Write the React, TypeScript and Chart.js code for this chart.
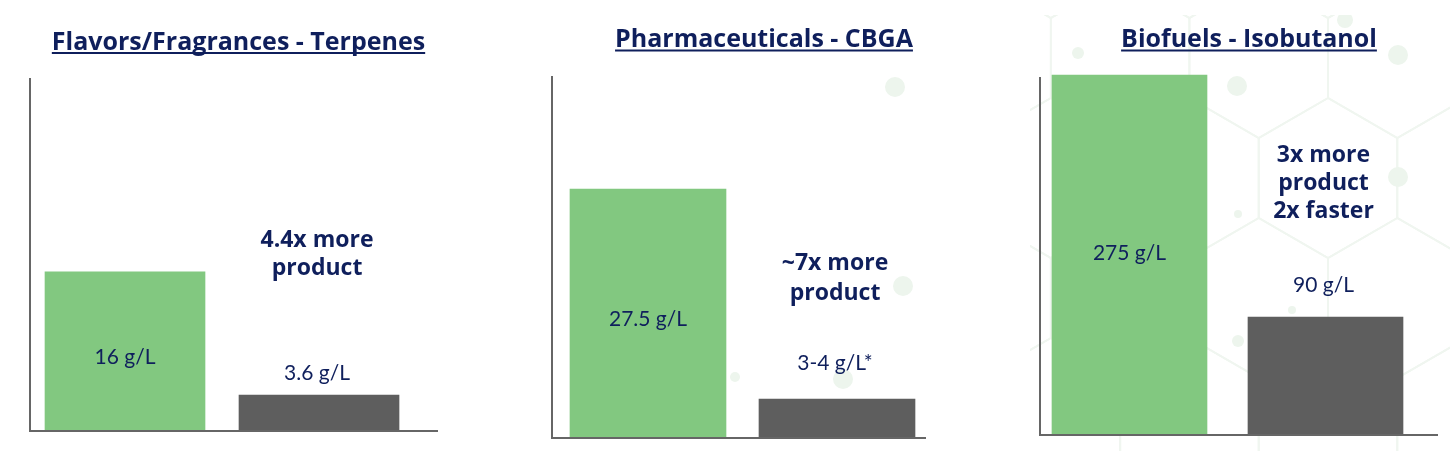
import React, { useEffect, useRef } from 'react';
import { Chart, registerables } from 'chart.js';

Chart.register(...registerables);

const W = 1456;
const H = 451;

// ---- data ----
const categories = ['Engineered', 'Conventional'];
const panelTitles = ['Flavors/Fragrances - Terpenes', 'Pharmaceuticals - CBGA', 'Biofuels - Isobutanol'];
const terpeneValues = [16, 3.6];
const cbgaValues = [27.5, 4.3];
const isobutanolValues = [275, 90];
const terpeneLabels = ['16 g/L', '3.6 g/L'];
const cbgaLabels = ['27.5 g/L', '3-4 g/L*'];
const isobutanolLabels = ['275 g/L', '90 g/L'];
const terpeneNote = ['4.4x more', 'product'];
const cbgaNote = ['~7x more', 'product'];
const isobutanolNote = ['3x more', 'product', '2x faster'];

// ---- styles / layout ----
const GREEN = '#82c880';
const GRAY = '#5e5e5e';
const NAVY = '#0f1f5c';
const AXIS = '#666666';
const DECO_LINE = '#f0f6f0';
const DECO_DOT = '#edf5ed';
const TITLE_FONT = '"Open Sans", sans-serif';
const NOTE_FONT = '"Open Sans", sans-serif';
const LABEL_FONT = 'Lato, sans-serif';

type Panel = {
  title: string;
  values: number[];
  labels: string[];
  note: string[];
  area: { left: number; right: number; top: number; bottom: number };
  xMin: number;
  xMax: number;
  yMax: number;
  barThickness: number;
  titleX: number;
  titleBaseline: number;
  underlineY: number;
  noteTop: number;
  noteLineH: number;
  innerDy: number;
  outerGap: number;
  deco: 'none' | 'dots' | 'hex';
};

const panels: Panel[] = [
  {
    title: panelTitles[0], values: terpeneValues, labels: terpeneLabels, note: terpeneNote,
    area: { left: 30, right: 437, top: 79, bottom: 431 },
    xMin: 0.5103, xMax: 2.6082, yMax: 35.4, barThickness: 160,
    titleX: 238.5, titleBaseline: 50, underlineY: 52, noteTop: 240, noteLineH: 28, innerDy: 6, outerGap: 22,
    deco: 'none',
  },
  {
    title: panelTitles[1], values: cbgaValues, labels: cbgaLabels, note: cbgaNote,
    area: { left: 552, right: 925, top: 77, bottom: 438 },
    xMin: 0.4921, xMax: 2.4656, yMax: 39.9, barThickness: 156,
    titleX: 764, titleBaseline: 47, underlineY: 49.5, noteTop: 263, noteLineH: 30, innerDy: 6, outerGap: 36,
    deco: 'dots',
  },
  {
    title: panelTitles[2], values: isobutanolValues, labels: isobutanolLabels, note: isobutanolNote,
    area: { left: 1040, right: 1437, top: 78, bottom: 435 },
    xMin: 0.5434, xMax: 2.5689, yMax: 272.7, barThickness: 155,
    titleX: 1249, titleBaseline: 47, underlineY: 49.5, noteTop: 155, noteLineH: 28, innerDy: -2, outerGap: 32,
    deco: 'hex',
  },
];

// faint decorative background (not data)
function drawDeco(ctx: CanvasRenderingContext2D, kind: Panel['deco']) {
  if (kind === 'none') return;
  ctx.save();
  if (kind === 'hex') {
    ctx.beginPath();
    ctx.rect(1030, 15, 420, 436);
    ctx.clip();
    ctx.strokeStyle = DECO_LINE;
    ctx.lineWidth = 2;
    const r = 80;
    const dx = Math.sqrt(3) * r;
    const cx0 = 1328;
    const cy0 = 178;
    for (let row = -2; row <= 3; row++) {
      for (let col = -3; col <= 2; col++) {
        const cx = cx0 + col * dx + (Math.abs(row) % 2 === 1 ? dx / 2 : 0);
        const cy = cy0 + row * 1.5 * r;
        ctx.beginPath();
        for (let k = 0; k < 6; k++) {
          const a = Math.PI / 2 + (k * Math.PI) / 3;
          const px = cx + r * Math.cos(a);
          const py = cy - r * Math.sin(a);
          if (k === 0) ctx.moveTo(px, py);
          else ctx.lineTo(px, py);
        }
        ctx.closePath();
        ctx.stroke();
      }
    }
    ctx.fillStyle = DECO_DOT;
    const dots: [number, number, number][] = [
      [1237, 86, 10], [1398, 55, 10], [1398, 177, 10], [1238, 214, 4],
      [1292, 310, 4], [1238, 341, 6], [1078, 53, 6], [1345, 20, 8],
    ];
    dots.forEach(([x, y, rr]) => {
      ctx.beginPath();
      ctx.arc(x, y, rr, 0, Math.PI * 2);
      ctx.fill();
    });
  } else {
    ctx.fillStyle = DECO_DOT;
    const dots: [number, number, number][] = [
      [895, 87, 10], [903, 286, 10], [843, 379, 10], [735, 377, 5],
    ];
    dots.forEach(([x, y, rr]) => {
      ctx.beginPath();
      ctx.arc(x, y, rr, 0, Math.PI * 2);
      ctx.fill();
    });
  }
  ctx.restore();
}

function makeTextPlugin(p: Panel) {
  return {
    id: 'panelText',
    beforeDatasetsDraw(chart: any) {
      drawDeco(chart.ctx as CanvasRenderingContext2D, p.deco);
    },
    afterDraw(chart: any) {
      const ctx = chart.ctx as CanvasRenderingContext2D;
      ctx.save();
      // title + underline
      ctx.fillStyle = NAVY;
      ctx.font = `bold 25px ${TITLE_FONT}`;
      ctx.textAlign = 'center';
      ctx.textBaseline = 'alphabetic';
      ctx.fillText(p.title, p.titleX, p.titleBaseline);
      const tw = ctx.measureText(p.title).width;
      ctx.fillRect(p.titleX - tw / 2, p.underlineY, tw, 2);

      const meta = chart.getDatasetMeta(0);
      const green = meta.data[0] as any;
      const gray = meta.data[1] as any;

      // value labels
      ctx.textBaseline = 'middle';
      ctx.font = `21px ${LABEL_FONT}`;
      ctx.fillText(p.labels[0], green.x, (green.y + green.base) / 2 + p.innerDy);
      ctx.fillText(p.labels[1], gray.x - 2, gray.y - p.outerGap);

      // annotation
      ctx.font = `bold 23px ${NOTE_FONT}`;
      p.note.forEach((line, i) => {
        ctx.fillText(line, gray.x - 2, p.noteTop + i * p.noteLineH);
      });
      ctx.restore();
    },
  };
}

function PanelChart({ p }: { p: Panel }) {
  const ref = useRef<HTMLCanvasElement | null>(null);
  useEffect(() => {
    if (!ref.current) return;
    const chart = new Chart(ref.current, {
      type: 'bar',
      data: {
        labels: categories,
        datasets: [
          {
            label: p.title,
            data: p.values.map((v, i) => ({ x: i + 1, y: v })),
            backgroundColor: [GREEN, GRAY],
            borderWidth: 0,
            barThickness: p.barThickness,
            clip: false as any,
          },
        ],
      },
      options: {
        responsive: false,
        animation: false,
        events: [],
        layout: {
          padding: {
            left: p.area.left,
            right: W - p.area.right,
            top: p.area.top,
            bottom: H - p.area.bottom,
          },
        },
        plugins: {
          legend: { display: false },
          tooltip: { enabled: false },
          title: { display: false },
        },
        scales: {
          x: {
            type: 'linear',
            offset: false,
            min: p.xMin,
            max: p.xMax,
            grid: { display: false, drawTicks: false, offset: false },
            ticks: { display: false },
            border: { display: true, color: AXIS, width: 2, z: 1 },
          },
          y: {
            type: 'linear',
            min: 0,
            max: p.yMax,
            grid: { display: false, drawTicks: false },
            ticks: { display: false },
            border: { display: true, color: AXIS, width: 2, z: 1 },
          },
        },
      } as any,
      plugins: [makeTextPlugin(p)],
    });
    return () => chart.destroy();
  }, [p]);
  return (
    <canvas
      ref={ref}
      width={W}
      height={H}
      style={{ position: 'absolute', left: 0, top: 0, width: W, height: H }}
    />
  );
}

export default function App() {
  return (
    <div style={{ position: 'absolute', left: 0, top: 0, width: W, height: H, background: '#ffffff', overflow: 'hidden' }}>
      {panels.map((p, i) => (
        <PanelChart key={i} p={p} />
      ))}
    </div>
  );
}
